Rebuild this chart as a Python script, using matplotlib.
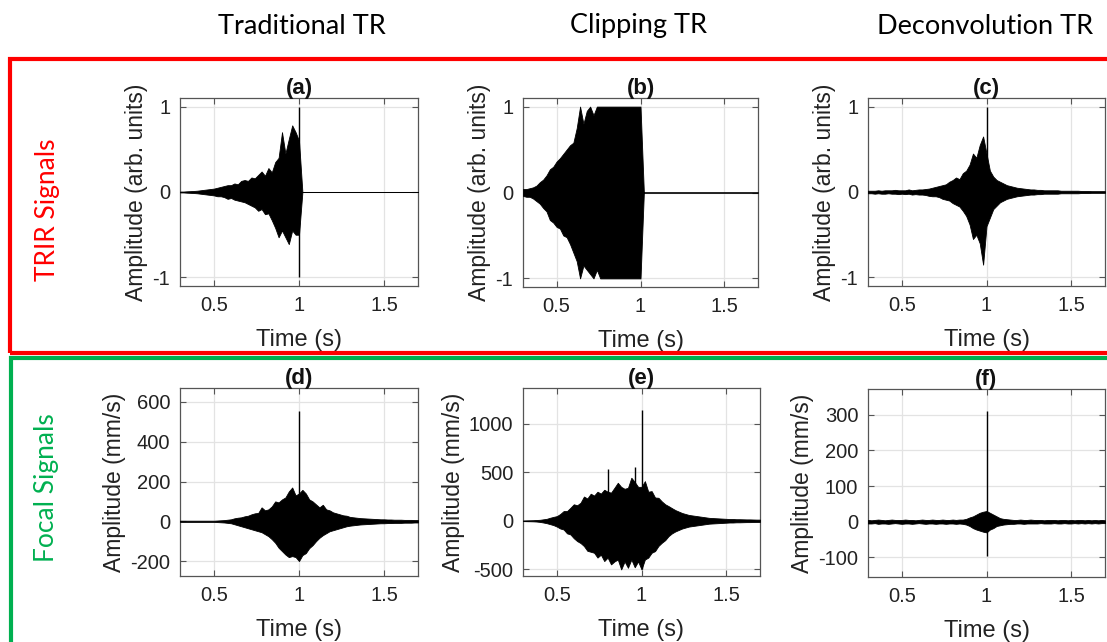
import numpy as np
import matplotlib
matplotlib.use("Agg")
import matplotlib.pyplot as plt
from matplotlib.patches import Rectangle

# ---------------- data ----------------
time_s = np.round(np.arange(0.30, 1.7001, 0.02), 2)   # 71 samples, 0.30 ... 1.70 s

col_titles = ["Traditional TR", "Clipping TR", "Deconvolution TR"]
row_titles = ["TRIR Signals", "Focal Signals"]
panel_tags = ["(a)", "(b)", "(c)", "(d)", "(e)", "(f)"]
ylabels = ["Amplitude (arb. units)"] * 3 + ["Amplitude (mm/s)"] * 3
xticks = [0.5, 1.0, 1.5]
xtick_labels = ["0.5", "1", "1.5"]
yticks = [[-1, 0, 1], [-1, 0, 1], [-1, 0, 1],
          [-200, 0, 200, 400, 600], [-500, 0, 500, 1000], [-100, 0, 100, 200, 300]]
ylims = [(-1.1, 1.1), (-1.1, 1.1), (-1.1, 1.1), (-275, 670), (-570, 1370), (-155, 372)]

# upper / lower envelopes of each waveform
a_up = [.005, .005, .008, .010, .012, .015, .020, .025, .030, .035,
        .040, .050, .060, .070, .080, .080, .100, .090, .130, .140,
        .130, .170, .160, .200, .240, .190, .280, .230, .350, .400,
        .700, .450, .620, .780, .700, .600, 0, 0, 0, 0,
        0, 0, 0, 0, 0, 0, 0, 0, 0, 0,
        0, 0, 0, 0, 0, 0, 0, 0, 0, 0,
        0, 0, 0, 0, 0, 0, 0, 0, 0, 0,
        0]
a_lo = [-.005, -.005, -.008, -.010, -.012, -.015, -.020, -.025, -.030, -.035,
        -.040, -.050, -.050, -.060, -.080, -.070, -.090, -.100, -.110, -.120,
        -.140, -.160, -.180, -.220, -.200, -.260, -.250, -.330, -.420, -.530,
        -.450, -.530, -.610, -.450, -.500, -.500, 0, 0, 0, 0,
        0, 0, 0, 0, 0, 0, 0, 0, 0, 0,
        0, 0, 0, 0, 0, 0, 0, 0, 0, 0,
        0, 0, 0, 0, 0, 0, 0, 0, 0, 0,
        0]

b_up = [.040, .040, .050, .060, .080, .120, .150, .200, .270, .300,
        .360, .400, .450, .500, .550, .580, .750, 1.0, .800, .950,
        1.0, .900, 1.0, 1.0, 1.0, 1.0, 1.0, 1.0, 1.0, 1.0,
        1.0, 1.0, 1.0, 1.0, 1.0, 1.0, 0, 0, 0, 0,
        0, 0, 0, 0, 0, 0, 0, 0, 0, 0,
        0, 0, 0, 0, 0, 0, 0, 0, 0, 0,
        0, 0, 0, 0, 0, 0, 0, 0, 0, 0,
        0]
b_lo = [-.040, -.050, -.050, -.070, -.100, -.130, -.180, -.220, -.320, -.350,
        -.400, -.420, -.500, -.520, -.600, -.700, -.800, -1.0, -.850, -.900,
        -.950, -1.0, -.900, -1.0, -1.0, -1.0, -1.0, -1.0, -1.0, -1.0,
        -1.0, -1.0, -1.0, -1.0, -1.0, -1.0, 0, 0, 0, 0,
        0, 0, 0, 0, 0, 0, 0, 0, 0, 0,
        0, 0, 0, 0, 0, 0, 0, 0, 0, 0,
        0, 0, 0, 0, 0, 0, 0, 0, 0, 0,
        0]

c_up = [.015, .015, .015, .020, .015, .020, .020, .020, .025, .020,
        .020, .020, .030, .020, .025, .030, .030, .035, .040, .050,
        .060, .070, .080, .090, .120, .140, .170, .150, .220, .250,
        .320, .450, .400, .550, .650, .450, .250, .180, .140, .120,
        .100, .080, .070, .060, .050, .045, .040, .035, .030, .030,
        .025, .025, .020, .020, .020, .020, .020, .015, .015, .015,
        .015, .015, .015, .012, .012, .012, .010, .010, .010, .010,
        .010]
c_lo = [-.015, -.015, -.020, -.015, -.020, -.020, -.015, -.020, -.020, -.025,
        -.020, -.025, -.020, -.030, -.025, -.030, -.030, -.035, -.045, -.050,
        -.050, -.060, -.080, -.090, -.100, -.130, -.150, -.170, -.220, -.280,
        -.380, -.550, -.500, -.600, -.850, -.400, -.300, -.200, -.160, -.120,
        -.100, -.080, -.070, -.060, -.050, -.045, -.040, -.035, -.030, -.030,
        -.025, -.025, -.020, -.020, -.020, -.020, -.020, -.015, -.015, -.015,
        -.015, -.015, -.015, -.012, -.012, -.012, -.010, -.010, -.010, -.010,
        -.010]

d_up = [3, 3, 3, 3, 3, 3, 3, 3, 3, 3,
        3, 4, 5, 6, 8, 10, 15, 18, 20, 25,
        28, 35, 40, 42, 70, 55, 60, 75, 100, 95,
        110, 120, 150, 170, 130, 140, 158, 140, 110, 100,
        85, 70, 83, 60, 55, 45, 40, 35, 30, 28,
        22, 20, 18, 16, 15, 14, 13, 12, 11, 10,
        10, 9, 9, 8, 8, 8, 7, 7, 7, 6,
        6]
d_lo = [-3, -3, -3, -3, -3, -3, -3, -3, -3, -3,
        -3, -4, -5, -6, -8, -10, -15, -20, -25, -30,
        -35, -40, -45, -50, -55, -65, -75, -90, -108, -133,
        -150, -167, -180, -175, -180, -200, -170, -160, -135, -120,
        -100, -83, -70, -60, -50, -45, -40, -35, -30, -25,
        -22, -20, -18, -16, -15, -14, -13, -12, -11, -10,
        -10, -9, -9, -8, -8, -8, -7, -7, -7, -6,
        -6]

e_up = [3, 4, 5, 6, 8, 10, 15, 20, 31, 40,
        48, 70, 100, 100, 134, 170, 160, 186, 250, 230,
        279, 260, 300, 280, 320, 300, 290, 340, 392, 350,
        330, 340, 444, 400, 350, 350, 409, 300, 306, 240,
        237, 200, 170, 151, 130, 110, 95, 80, 70, 60,
        55, 50, 45, 40, 35, 30, 28, 26, 24, 22,
        20, 18, 18, 16, 16, 15, 14, 14, 13, 12,
        12]
e_lo = [-3, -4, -5, -6, -8, -12, -18, -25, -35, -45,
        -60, -80, -90, -130, -141, -180, -210, -230, -261, -310,
        -320, -330, -380, -350, -416, -380, -450, -420, -400, -502,
        -420, -485, -400, -480, -420, -502, -400, -380, -330, -313,
        -260, -227, -200, -158, -130, -110, -95, -80, -70, -60,
        -55, -50, -45, -40, -35, -30, -28, -26, -24, -22,
        -20, -18, -18, -16, -16, -15, -14, -14, -13, -12,
        -12]

f_up = [5, 4, 5, 6, 5, 4, 5, 6, 5, 5,
        5, 6, 5, 5, 4, 5, 6, 5, 5, 6,
        5, 5, 6, 5, 5, 6, 5, 6, 6, 8,
        12, 15, 20, 25, 28, 30, 25, 20, 15, 10,
        8, 7, 6, 5, 5, 6, 5, 5, 6, 5,
        5, 5, 4, 5, 5, 5, 4, 5, 5, 4,
        5, 4, 5, 5, 4, 5, 4, 5, 4, 5,
        4]
f_lo = [-5, -5, -4, -6, -5, -5, -6, -5, -4, -5,
        -6, -5, -5, -6, -5, -4, -5, -6, -5, -5,
        -6, -5, -5, -6, -5, -5, -6, -5, -6, -8,
        -12, -18, -22, -25, -28, -30, -22, -18, -12, -10,
        -8, -7, -6, -6, -5, -5, -6, -5, -5, -5,
        -5, -4, -5, -5, -5, -4, -5, -5, -4, -5,
        -5, -4, -5, -4, -5, -4, -5, -4, -5, -4,
        -4]

# isolated spikes: time, lower end, upper end
a_spk_t, a_spk_lo, a_spk_hi = [1.00], [-1.0], [1.0]
b_spk_t, b_spk_lo, b_spk_hi = [], [], []
c_spk_t, c_spk_lo, c_spk_hi = [1.00], [-0.30], [1.0]
d_spk_t, d_spk_lo, d_spk_hi = [1.00], [-150], [555]
e_spk_t, e_spk_lo, e_spk_hi = [0.80, 0.96, 1.00], [-300, -300, -500], [537, 554, 1140]
f_spk_t, f_spk_lo, f_spk_hi = [1.00], [-95], [310]

uppers = [a_up, b_up, c_up, d_up, e_up, f_up]
lowers = [a_lo, b_lo, c_lo, d_lo, e_lo, f_lo]
spikes = [(a_spk_t, a_spk_lo, a_spk_hi), (b_spk_t, b_spk_lo, b_spk_hi),
          (c_spk_t, c_spk_lo, c_spk_hi), (d_spk_t, d_spk_lo, d_spk_hi),
          (e_spk_t, e_spk_lo, e_spk_hi), (f_spk_t, f_spk_lo, f_spk_hi)]

# ---------------- layout ----------------
W, H = 1107, 642
fig = plt.figure(figsize=(W / 100, H / 100), dpi=100)
fig.patch.set_facecolor("white")

# pixel boxes: left, right, top, bottom
boxes = [(180, 418, 98, 286), (523, 758, 98, 287), (868, 1105, 98, 286),
         (180, 418, 388, 576), (523, 760, 388, 576), (868, 1105, 389, 577)]

tick_font = "Liberation Sans"
label_font = "Liberation Sans"
head_font = "Lato"
axis_gray = "#555555"

for i in range(6):
    l, r, t, b = boxes[i]
    ax = fig.add_axes([l / W, 1 - b / H, (r - l) / W, (b - t) / H])
    ax.fill_between(time_s, lowers[i], uppers[i], facecolor="black",
                    edgecolor="black", linewidth=0.6, zorder=3)
    st, slo, shi = spikes[i]
    if st:
        ax.vlines(st, slo, shi, colors="black", linewidth=1.0, zorder=4)
    ax.set_xlim(0.3, 1.7)
    ax.set_ylim(*ylims[i])
    ax.set_xticks(xticks)
    ax.set_xticklabels(xtick_labels)
    ax.set_yticks(yticks[i])
    ax.set_yticklabels([str(v) for v in yticks[i]])
    ax.grid(True, color="#e3e3e3", linewidth=0.9, zorder=0)
    ax.set_axisbelow(True)
    ax.tick_params(direction="in", length=4, width=0.8, colors=axis_gray,
                   labelcolor="#222222", labelsize=14.5, pad=7,
                   top=True, right=True)
    for lab in ax.get_xticklabels() + ax.get_yticklabels():
        lab.set_fontfamily(tick_font)
    for sp in ax.spines.values():
        sp.set_color(axis_gray)
        sp.set_linewidth(0.9)
    ax.set_xlabel("Time (s)", fontsize=17, family=label_font,
                  color="#222222", labelpad=10)
    ax.set_ylabel(ylabels[i], fontsize=16.5, family=label_font,
                  color="#222222", labelpad=3)
    ax.set_title(panel_tags[i], fontsize=16, fontweight="bold",
                 family=label_font, pad=3, color="#111111")

# column headers
for x, txt in zip([302, 638, 985], col_titles):
    fig.text(x / W, 1 - 26 / H, txt, ha="center", va="center",
             fontsize=19.5, family=head_font, color="black")

# row frames
red = "#ff0000"
green = "#00b050"
fig.add_artist(Rectangle((10 / W, 1 - 353 / H), (1130 - 10) / W, (353 - 59) / H,
                         transform=fig.transFigure, fill=False,
                         edgecolor=red, linewidth=3, clip_on=False))
fig.add_artist(Rectangle((11 / W, 1 - 660 / H), (1130 - 11) / W, (660 - 358) / H,
                         transform=fig.transFigure, fill=False,
                         edgecolor=green, linewidth=3, clip_on=False))

fig.text(47 / W, 1 - 210 / H, row_titles[0], rotation=90, ha="center",
         va="center", fontsize=19, family=head_font, color=red)
fig.text(47 / W, 1 - 488 / H, row_titles[1], rotation=90, ha="center",
         va="center", fontsize=19, family=head_font, color=green)

fig.savefig("out.png", dpi=100, facecolor="white")
